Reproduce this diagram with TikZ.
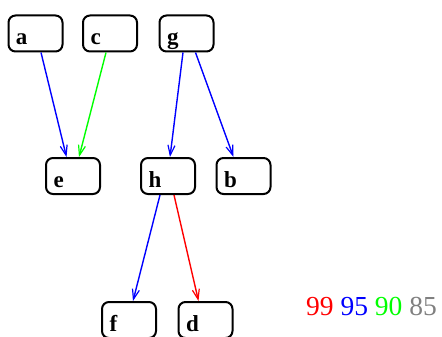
\documentclass[tikz,border=0pt]{standalone}
\usepackage{fontspec}
\setmainfont{Liberation Serif}
\usetikzlibrary{arrows.meta}
\tikzset{
	vbox/.style={draw,line width=2pt,rounded corners=7pt,minimum width=54pt,minimum height=36pt,
		text width=39pt,align=left,inner xsep=7.5pt,inner ysep=2pt,text height=27pt,text depth=5pt,
		font=\fontsize{23}{23}\selectfont\bfseries},
	edge/.style={line width=1.4pt,-{Straight Barb[length=10pt,width=7pt,line width=1.2pt]}}
}
\begin{document}
\begin{tikzpicture}[x=1pt,y=1pt]
			\useasboundingbox (0,0) rectangle (442,-337);
			\node[vbox] (a) at (35.5,-33.5) {a};
			\node[vbox] (c) at (110,-33.5) {c};
			\node[vbox] (g) at (186.5,-33.5) {g};
			\node[vbox] (e) at (73,-176) {e};
			\node[vbox] (h) at (168,-176) {h};
			\node[vbox] (b) at (243.5,-176) {b};
			\node[vbox] (f) at (129,-320) {f};
			\node[vbox] (d) at (205.5,-320) {d};
			\draw[edge,blue] ([xshift=5.5pt]a.south) -- ([xshift=-6.5pt]e.north);
			\draw[edge,green] ([xshift=-4pt]c.south) -- ([xshift=6pt]e.north);
			\draw[edge,blue] ([xshift=-3.5pt]g.south) -- ([xshift=2pt]h.north);
			\draw[edge,blue] ([xshift=9pt]g.south) -- ([xshift=-10pt]b.north);
			\draw[edge,blue] ([xshift=-8pt]h.south) -- ([xshift=4pt]f.north);
			\draw[edge,red] ([xshift=6pt]h.south) -- ([xshift=-7pt]d.north);
			\node[anchor=base west,inner sep=0pt,font=\fontsize{27.5}{27.5}\selectfont] (legend) at (306,-315)
				{\textcolor{red}{99} \textcolor{blue}{95} \textcolor{green}{90} \textcolor{gray}{85}};
		\end{tikzpicture}
\end{document}
